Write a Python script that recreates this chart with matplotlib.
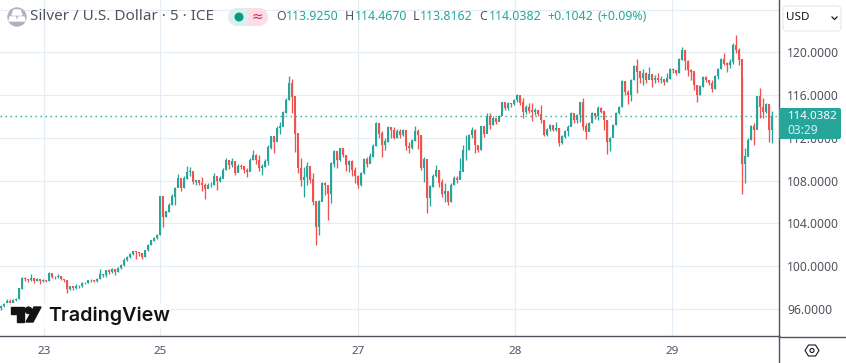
import matplotlib
matplotlib.use("Agg")
import matplotlib.pyplot as plt
from matplotlib.patches import Circle, FancyBboxPatch, Polygon, Rectangle, Wedge
import numpy as np

plt.rcParams['font.family'] = ['Noto Sans', 'DejaVu Sans']

GREEN = "#26a69a"
RED = "#ef5350"
GRID = "#e3edf3"
GREY = "#50535e"

# 5 min candles, thinned out
close = [
    96.3, 96.4, 96.7, 96.6, 96.8, 96.9, 97.9, 98.9, 98.8, 98.7, 98.85, 98.65, 98.8, 98.6, 98.7, 98.65, 99.3, 99.0,
    99.0, 99.05, 98.8, 98.7, 97.9, 98.1, 98.0, 98.15, 98.15, 98.4, 98.4, 98.7, 98.7, 98.6, 98.8, 99.2, 99.2, 99.6,
    99.5, 99.7, 99.5, 99.8, 100.1, 100.6, 100.85, 101.1, 101.35, 101.3, 101.2, 100.9, 101.5, 102.0, 102.4, 102.6,
    102.9, 106.5, 104.6, 105.1, 105.7, 106.5, 107.3, 108.2, 107.3, 108.2, 108.8, 108.9, 107.9, 108.0, 107.75, 107.6,
    107.2, 107.6, 107.6, 108.4, 108.0, 108.2, 109.0, 109.9, 109.5, 109.85, 108.7, 109.35, 109.3, 109.0, 108.85, 109.9,
    110.4, 109.9, 109.15, 109.3, 109.8, 111.1, 112.1, 111.65, 112.9, 113.05, 114.35, 115.5, 117.1, 115.85, 112.4, 109.15,
    108.05, 108.35, 109.3, 108.1, 106.05, 103.7, 106.05, 107.75, 107.6, 106.8, 109.6, 110.7, 109.9, 111.0, 110.4, 109.5,
    109.8, 109.0, 108.4, 107.6, 108.7, 109.95, 109.55, 110.25, 111.25, 113.35, 112.4, 111.3, 111.65, 113.0, 112.75, 111.95,
    112.65, 112.25, 112.7, 111.2, 111.1, 111.75, 112.6, 112.25, 109.15, 109.95, 106.35, 107.45, 108.45, 109.0, 107.8, 106.8,
    107.05, 106.05, 107.6, 108.2, 108.05, 108.85, 110.85, 110.85, 112.25, 112.75, 111.35, 110.85, 113.05, 112.4, 114.0, 113.2,
    113.8, 113.5, 114.0, 115.3, 114.75, 115.2, 115.15, 115.55, 116.0, 115.3, 114.45, 114.9, 114.55, 114.45, 114.6, 114.2,
    113.65, 112.25, 112.8, 113.2, 112.75, 112.9, 111.5, 112.1, 112.6, 113.0, 114.25, 113.65, 114.15, 115.3, 113.05, 112.55,
    113.35, 114.3, 114.05, 114.75, 114.45, 113.65, 111.65, 111.95, 113.2, 114.3, 114.85, 117.25, 116.3, 116.0, 117.4, 118.65,
    118.2, 117.6, 118.05, 117.4, 117.9, 117.4, 117.55, 117.4, 117.5, 117.25, 117.55, 118.4, 118.3, 118.05, 119.3, 120.2,
    119.15, 118.35, 118.2, 116.95, 116.0, 116.8, 117.65, 117.4, 117.1, 116.55, 117.75, 118.4, 119.35, 118.95, 118.8, 119.1,
    120.7, 120.2, 119.3, 109.6, 110.25, 111.8, 113.05, 112.75, 115.85, 114.9, 114.45, 115.1, 112.75, 114.04,
]
high = [
    96.4, 96.6, 96.9, 96.9, 96.9, 97.0, 98.0, 99.0, 98.95, 98.85, 99.3, 98.9, 98.9, 98.8, 98.8, 98.75, 99.45, 99.3,
    99.1, 99.3, 99.05, 98.8, 98.6, 98.2, 98.15, 98.3, 98.25, 98.5, 98.55, 98.75, 98.85, 98.75, 98.9, 99.7, 99.3, 99.65,
    99.7, 99.85, 99.7, 99.9, 100.2, 100.75, 100.95, 101.2, 101.45, 101.4, 101.35, 101.2, 101.55, 102.1, 102.45, 102.7,
    103.0, 106.6, 105.2, 105.2, 105.9, 106.75, 107.4, 108.6, 107.9, 108.4, 109.4, 109.25, 108.4, 108.1, 108.05, 108.3,
    107.75, 107.75, 107.9, 108.7, 108.2, 108.4, 109.15, 110.1, 109.9, 110.1, 109.6, 109.55, 109.55, 109.3, 109.15, 110.1,
    110.9, 110.5, 110.4, 109.55, 110.0, 111.3, 112.2, 112.1, 113.1, 113.5, 114.55, 115.7, 117.8, 117.55, 114.15, 110.85,
    110.1, 109.3, 109.7, 108.9, 108.7, 106.05, 106.2, 107.9, 107.9, 107.6, 109.75, 110.85, 110.6, 111.1, 111.0, 110.4,
    109.9, 109.95, 109.3, 108.5, 108.85, 110.1, 110.2, 110.55, 111.4, 113.5, 113.4, 112.6, 111.95, 113.1, 113.05, 113.0,
    112.8, 112.8, 112.8, 111.95, 111.65, 111.85, 113.1, 112.8, 112.25, 110.2, 108.45, 107.6, 108.65, 109.5, 109.0, 108.2,
    107.75, 107.05, 107.75, 108.4, 108.4, 110.1, 111.35, 112.25, 112.4, 113.0, 112.8, 111.35, 113.1, 112.9, 114.35, 114.3,
    114.05, 113.8, 114.15, 115.4, 115.2, 115.4, 115.3, 115.65, 116.1, 115.85, 115.7, 115.05, 115.3, 115.25, 114.75, 114.6,
    115.05, 113.65, 112.95, 113.3, 113.2, 113.5, 112.9, 112.3, 112.75, 113.2, 114.45, 114.25, 114.25, 115.4, 115.7, 113.35,
    113.5, 114.45, 114.25, 114.95, 114.9, 114.5, 113.65, 112.1, 113.3, 114.45, 114.95, 117.4, 117.35, 116.45, 117.55, 118.8,
    119.35, 117.75, 118.4, 118.2, 118.6, 117.9, 117.9, 118.1, 117.75, 117.55, 118.05, 118.5, 118.5, 118.35, 119.45, 120.45,
    120.15, 119.3, 118.4, 118.2, 116.95, 116.95, 117.75, 117.75, 117.4, 117.4, 117.9, 118.5, 119.45, 119.9, 119.1, 119.35,
    120.85, 121.6, 120.4, 117.7, 111.05, 111.95, 113.2, 113.35, 115.95, 116.7, 115.7, 115.25, 115.1, 114.5,
]
low = [
    95.9, 96.2, 96.3, 96.3, 96.6, 96.75, 96.9, 97.9, 98.6, 98.5, 98.6, 98.4, 98.6, 98.35, 98.5, 98.5, 98.65, 98.9,
    98.85, 98.9, 98.7, 98.55, 97.5, 97.75, 97.8, 97.9, 98.0, 98.1, 98.3, 98.4, 98.55, 98.5, 98.55, 98.8, 98.95, 98.95,
    99.3, 99.4, 99.2, 99.45, 99.75, 100.05, 100.5, 100.8, 101.05, 100.7, 101.0, 100.7, 100.85, 101.45, 101.95, 102.35,
    102.55, 102.9, 103.7, 104.6, 105.1, 105.7, 105.7, 107.4, 107.0, 107.3, 108.2, 108.4, 107.65, 107.6, 107.55, 107.0,
    106.3, 107.3, 107.4, 107.6, 107.1, 107.9, 108.4, 109.0, 109.05, 109.25, 108.5, 108.85, 109.1, 108.75, 108.3, 109.0,
    109.9, 109.55, 108.95, 108.55, 109.3, 109.5, 111.0, 110.55, 112.3, 112.35, 113.85, 114.3, 115.55, 114.3, 110.7, 108.75,
    107.5, 106.5, 107.6, 107.75, 105.7, 102.0, 102.9, 106.35, 106.65, 104.3, 105.9, 109.3, 109.15, 109.8, 110.2, 108.95,
    108.85, 108.4, 107.75, 107.3, 107.5, 108.6, 109.25, 109.7, 110.2, 111.25, 111.95, 110.2, 110.85, 111.65, 111.95, 111.85,
    111.95, 111.95, 112.2, 110.85, 110.6, 111.0, 111.75, 111.0, 109.0, 107.9, 104.95, 105.65, 107.45, 108.3, 107.4, 106.5,
    106.05, 105.7, 106.05, 107.6, 107.75, 108.4, 110.1, 109.95, 110.85, 111.95, 110.6, 110.7, 110.85, 112.1, 112.75, 112.8,
    113.2, 113.3, 113.7, 114.55, 114.65, 114.6, 114.9, 115.05, 115.4, 115.05, 113.9, 114.25, 114.35, 113.6, 114.15, 114.05,
    113.4, 112.15, 112.15, 112.6, 112.6, 112.6, 111.25, 111.4, 111.95, 112.2, 113.2, 113.4, 113.4, 113.5, 112.75, 111.85,
    112.65, 113.35, 113.75, 113.65, 114.3, 112.75, 110.5, 110.8, 112.6, 113.2, 114.2, 114.9, 116.0, 115.2, 115.45, 117.4,
    116.2, 117.1, 116.95, 117.1, 117.6, 116.8, 117.1, 117.25, 117.15, 116.95, 117.25, 117.55, 118.05, 117.9, 118.05, 119.3,
    118.35, 117.75, 117.4, 116.5, 115.4, 116.0, 116.8, 117.25, 116.95, 116.25, 116.55, 117.5, 118.4, 118.8, 118.2, 118.5,
    118.95, 119.9, 118.8, 106.8, 107.75, 110.4, 111.8, 111.35, 113.05, 113.9, 113.9, 114.3, 111.65, 111.55,
]
open_ = [96.1] + close[:-1]

day_labels = ["23", "25", "27", "28", "29"]
day_pos = [14.47, 53.1, 119.1, 171.5, 223.6]
price_ticks = [96, 100, 104, 108, 112, 116, 120]
grid_only = [124]
last_price = 114.0382

fig = plt.figure(figsize=(8.46, 3.63), dpi=100)
ax = fig.add_axes([0, 27 / 363, 778.5 / 846, 336 / 363])
ax.set_xlim(-1 / 3, 259.17)
ax.set_ylim(93.48, 124.89)

ax.set_yticks(price_ticks + grid_only)
ax.set_yticklabels(["%.4f" % p for p in price_ticks] + [""], color=GREY, fontsize=8.7)
ax.yaxis.tick_right()
ax.set_xticks(day_pos)
ax.set_xticklabels(day_labels, color=GREY, fontsize=8.4)
ax.tick_params(length=0, pad=7)
ax.tick_params(axis="y", pad=6.2)
ax.grid(True, color=GRID, lw=0.85)
ax.set_axisbelow(True)
for side in ["top", "left"]:
    ax.spines[side].set_visible(False)
for side in ["right", "bottom"]:
    ax.spines[side].set_color(GREY)
    ax.spines[side].set_linewidth(1.0)

x = np.arange(len(close))
o, c = np.array(open_), np.array(close)
up = c >= o
colors = [GREEN if u else RED for u in up]
ax.vlines(x, low, high, colors=colors, lw=0.95, zorder=3)
ax.bar(x, np.abs(c - o) + 0.03, bottom=np.minimum(o, c), width=0.72, color=colors, zorder=3)
ax.axhline(last_price, color=GREEN, lw=1.0, ls=(0, (1, 2.6)), zorder=4)

# everything around the plot, in pixel coordinates
ov = fig.add_axes([0, 0, 1, 1])
ov.set_xlim(0, 846)
ov.set_ylim(363, 0)
ov.axis("off")
ov.patch.set_alpha(0)

# header
ov.add_patch(Circle((17, 17), 9, color="#b2b0be"))
ov.add_patch(Polygon([[14, 10], [20, 10], [22, 15], [12, 15]], color="white"))
ov.add_patch(Polygon([[10, 17], [15.5, 17], [16.5, 21], [9, 21]], color="white"))
ov.add_patch(Polygon([[18.5, 17], [24, 17], [25, 21], [17.5, 21]], color="white"))
ov.text(30, 17, "Silver / U.S. Dollar · 5 · ICE", color=GREY, fontsize=11, va="center")

ov.add_patch(Wedge((237, 17), 9, 90, 270, color="#d9f0ec", lw=0))
ov.add_patch(Rectangle((237, 8), 11, 18, color="#d9f0ec", lw=0))
ov.add_patch(Rectangle((248, 8), 11, 18, color="#fbdde6", lw=0))
ov.add_patch(Wedge((259, 17), 9, -90, 90, color="#fbdde6", lw=0))
ov.add_patch(Circle((239, 17), 3.8, color="#089981"))
ov.text(257, 17, "≈", color="#ec1e5e", fontsize=10, ha="center", va="center", family="DejaVu Sans")

legend_items = [(276, "O", "113.9250"), (345, "H", "114.4670"), (413, "L", "113.8162"), (479, "C", "114.0382")]
for lx, letter, value in legend_items:
    ov.text(lx, 17, letter, color=GREY, fontsize=8.9, va="center")
    ov.text(lx + 10 if letter != "L" else lx + 7, 17, value, color=GREEN, fontsize=8.9, va="center")
ov.text(547, 17, "+0.1042", color=GREEN, fontsize=8.9, va="center")
ov.text(597, 17, "(+0.09%)", color=GREEN, fontsize=8.9, va="center")

# price scale extras
ov.add_patch(FancyBboxPatch((783, 6), 58, 25, boxstyle="round,pad=0,rounding_size=4", fc="white", ec="#e6e8ee", lw=0.8))
ov.text(786, 17.5, "USD", color="#131722", fontsize=8.4, va="center")
ov.plot([832, 834.5, 837], [17, 19.5, 17], color="#131722", lw=0.9)
ov.add_patch(FancyBboxPatch((779, 108), 62, 31, boxstyle="round,pad=0,rounding_size=2", fc=GREEN, ec="none"))
ov.text(787.5, 116.5, "114.0382", color="white", fontsize=8.3, fontweight="bold", va="center")
ov.text(787.5, 130.5, "03:29", color="#d6efec", fontsize=8.6, va="center")

# bottom lines and settings icon
ov.plot([778.5, 846], [336.5, 336.5], color=GREY, lw=1.0)
ov.plot([778.5, 778.5], [336, 363], color=GREY, lw=1.0)
ov.add_patch(Polygon([[805, 350.5], [808.5, 345], [815.5, 345], [819, 350.5], [815.5, 356], [808.5, 356]],
                     fc="white", ec="#131722", lw=0.8))
ov.add_patch(Circle((812, 350.5), 2, fc="white", ec="#131722", lw=0.8))

# TradingView logo
ov.add_patch(Rectangle((5, 303), 166, 25, color="white", alpha=0.85, lw=0, zorder=1))
ov.add_patch(Polygon([[11, 307], [24, 307], [24, 322], [17, 322], [17, 313.5], [11, 313.5]], color="#131313", zorder=2))
ov.add_patch(Circle((28.5, 310.3), 3.2, color="#131313", zorder=2))
ov.add_patch(Polygon([[34, 307], [41, 307], [33, 322], [26, 322]], color="#131313", zorder=2))
ov.text(48, 316, "TradingView", color="#131313", fontsize=14.2, fontweight="semibold", va="center", family="Inter", zorder=2)

fig.savefig("out.png", dpi=100)
